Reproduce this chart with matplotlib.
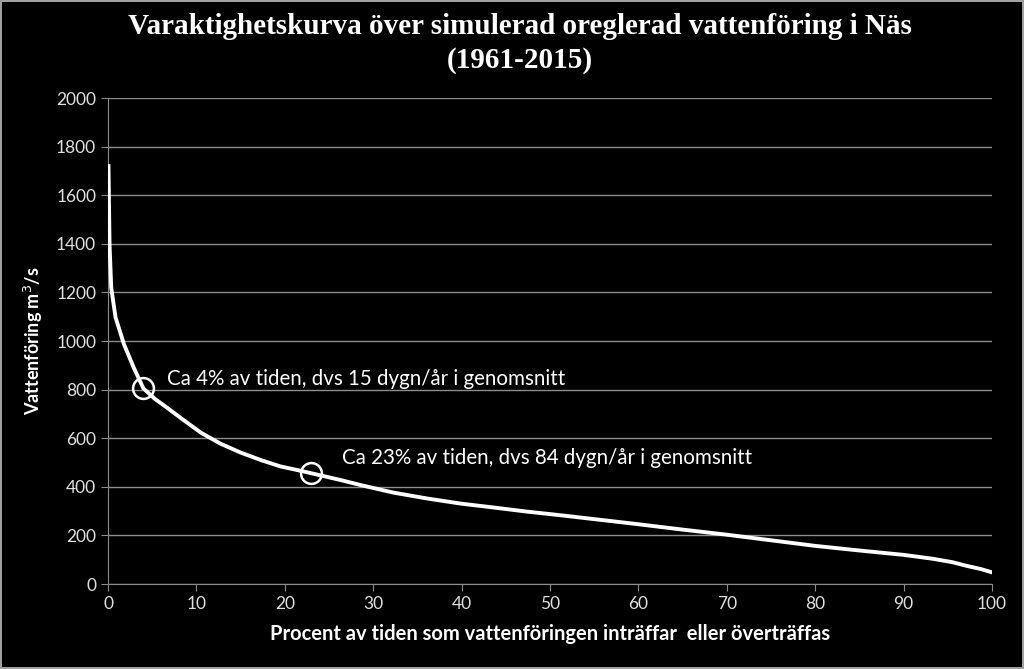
import numpy as np
import matplotlib.pyplot as plt

# varaktighetskurva
procent = [0.05, 0.17, 0.36, 0.85, 1.8, 2.9, 4.0, 5.3, 6.7, 8.2, 10.5, 12.7,
           15.0, 17.3, 19.5, 21.8, 23.1, 26.3, 28.6, 32.3, 36.1, 39.9, 43.6,
           47.4, 51.2, 55.5, 60.0, 65.0, 70.0, 75.0, 80.0, 85.0, 90.0, 93.3,
           95.5, 97.1, 98.7, 100.0]
flode = [1720, 1398, 1220, 1097, 987, 891, 805, 762, 725, 684, 623, 578,
         541, 510, 484, 466, 455, 428, 407, 376, 352, 331, 315,
         298, 283, 265, 246, 224, 203, 180, 157, 138, 120, 104,
         90, 75, 62, 48]

mark_x = [4, 23]
mark_y = [805, 457]
mark_txt = ['Ca 4% av tiden, dvs 15 dygn/år i genomsnitt',
            'Ca 23% av tiden, dvs 84 dygn/år i genomsnitt']

xticks = np.arange(0, 101, 10)
yticks = np.arange(0, 2001, 200)

fig = plt.figure(figsize=(10.24, 6.69), dpi=100, facecolor='black',
                 edgecolor='#a0a0a0', linewidth=1.5)
ax = fig.add_subplot(111)
fig.subplots_adjust(left=0.1055, right=0.9688, top=0.8535, bottom=0.127)
ax.set_facecolor('black')

ax.plot(procent, flode, color='white', lw=2.8, solid_joinstyle='round', zorder=3)
ax.plot(mark_x, mark_y, 'o', ms=15, mfc='none', mec='white', mew=1.8, zorder=4)

ax.text(6.7, 805 + 40, mark_txt[0], color='white', fontsize=14.8,
        family='Lato', va='center')
ax.text(26.5, 458 + 60, mark_txt[1], color='white', fontsize=14.8,
        family='Lato', va='center')

ax.set_xlim(0, 100)
ax.set_ylim(0, 2000)
ax.set_xticks(xticks)
ax.set_yticks(yticks)
ax.grid(axis='y', color='#8c8c8c', lw=1)
ax.set_axisbelow(True)
for s in ['top', 'right']:
    ax.spines[s].set_visible(False)
for s in ['left', 'bottom']:
    ax.spines[s].set_color('#8c8c8c')
ax.tick_params(colors='#8c8c8c', labelcolor='#e0e0e0', length=5, labelsize=12.5)
for lab in ax.get_xticklabels() + ax.get_yticklabels():
    lab.set_family('Lato')

ax.set_xlabel('Procent av tiden som vattenföringen inträffar  eller överträffas',
              color='white', fontsize=14.5, fontweight='bold', family='Lato',
              labelpad=9)
ax.set_ylabel('Vattenföring m$^3$/s', color='white', fontsize=13,
              fontweight='bold', family='Lato', labelpad=8)

fig.suptitle('Varaktighetskurva över simulerad oreglerad vattenföring i Näs\n(1961-2015)',
             color='white', fontsize=21, fontweight='bold',
             family='Liberation Serif', x=0.508, y=0.98, linespacing=1.3)

fig.savefig('out.png', dpi=100, facecolor='black', edgecolor='#a0a0a0')
